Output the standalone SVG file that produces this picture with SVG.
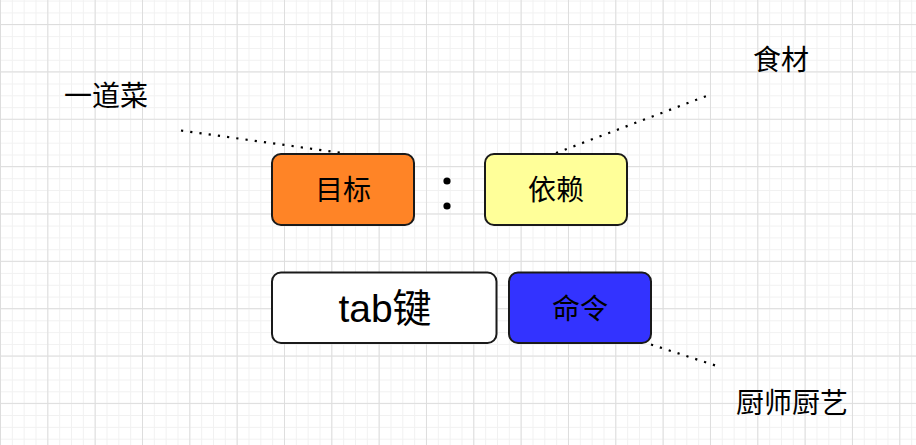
<svg xmlns="http://www.w3.org/2000/svg" width="916" height="445" viewBox="0 0 916 445">
  <defs>
    <pattern id="minor" x="0" y="0.6" width="11.833" height="11.84" patternUnits="userSpaceOnUse">
      <path d="M0.5 0V11.84M0 0.5H11.833" fill="none" stroke="#f1f1f1" stroke-width="1"/>
    </pattern>
    <pattern id="major" x="0" y="24" width="47.33" height="47.36" patternUnits="userSpaceOnUse">
      <path d="M0.5 0V47.36M0 0.5H47.33" fill="none" stroke="#dddddd" stroke-width="1"/>
    </pattern>
  </defs>
  <style>
    .box { stroke: #1a1a1a; stroke-width: 2; }
    .t { font-family: "Noto Sans CJK SC", "Liberation Sans", sans-serif; fill: #000; text-anchor: middle; }
    .lbl { font-size: 28px; }
    .dot { fill: none; stroke: #000; stroke-width: 2.2; stroke-dasharray: 2.2 7.1; }
  </style>
  <rect width="916" height="445" fill="#ffffff"/>
  <rect width="916" height="445" fill="url(#minor)"/>
  <rect width="916" height="445" fill="url(#major)"/>

  <g id="connectors">
    <line class="dot" x1="181" y1="130.5" x2="342" y2="153"/>
    <line class="dot" x1="556" y1="153" x2="709" y2="95"/>
    <line class="dot" x1="651" y1="344.5" x2="717" y2="366"/>
  </g>

  <g id="node-mubiao">
    <rect class="box" x="272" y="154" width="142" height="71" rx="9" fill="#ff8426"/>
    <text class="t lbl" x="343" y="200">目标</text>
  </g>

  <g id="colon">
    <circle cx="447" cy="181" r="3.6" fill="#000"/>
    <circle cx="447" cy="206" r="3.6" fill="#000"/>
  </g>

  <g id="node-yilai">
    <rect class="box" x="485" y="154" width="142" height="71" rx="9" fill="#ffff99"/>
    <text class="t lbl" x="556" y="200">依赖</text>
  </g>

  <g id="node-tab">
    <rect class="box" x="272" y="272.5" width="224.5" height="70.5" rx="9" fill="#ffffff"/>
    <text x="385" y="322" font-size="39px" font-family="Liberation Sans, Noto Sans CJK SC, sans-serif" text-anchor="middle" fill="#000">tab键</text>
  </g>

  <g id="node-mingling">
    <rect class="box" x="509" y="272.5" width="142" height="70.5" rx="9" fill="#3333ff"/>
    <text class="t lbl" x="580" y="318.5">命令</text>
  </g>

  <g id="label-yidaocai">
    <text class="t lbl" x="106" y="106">一道菜</text>
  </g>
  <g id="label-shicai">
    <text class="t lbl" x="781" y="70">食材</text>
  </g>
  <g id="label-chushi">
    <text class="t lbl" x="792" y="413">厨师厨艺</text>
  </g>
</svg>
